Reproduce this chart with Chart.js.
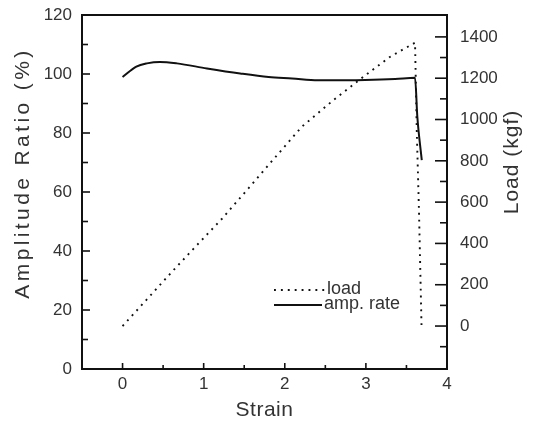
<!DOCTYPE html>
<html>
<head>
<meta charset="utf-8">
<script src="https://cdn.jsdelivr.net/npm/chart.js@4.4.1/dist/chart.umd.min.js"></script>
<style>
    html, body { margin: 0; padding: 0; background: #fff; }
    #wrap { width: 535px; height: 424px; }
</style>
</head>
<body>
<div id="wrap"><canvas id="strainChart"></canvas></div>
<script>
// load curve (kgf) vs strain
const loadStrain = [0, 0.61, 0.91, 1.22, 1.57, 1.86, 2.21, 2.60, 2.97, 3.30, 3.606, 3.627, 3.655, 3.686];
const loadValues = [0, 263, 389, 517, 675, 807, 965, 1094, 1207, 1304, 1372, 950, 550, 0];

// amplitude ratio (%) vs strain
const ampStrain = [0, 0.17, 0.30, 0.46, 0.67, 1.04, 1.45, 1.80, 2.09, 2.41, 2.99, 3.36, 3.606, 3.634, 3.689];
const ampValues = [99.0, 102.5, 103.6, 104.1, 103.6, 101.9, 100.2, 99.0, 98.5, 97.9, 98.0, 98.3, 98.7, 85.6, 70.8];

// tick labels
const strainTicks = [0, 1, 2, 3, 4];
const strainMinor = [0.5, 1.5, 2.5, 3.5];
const ampTicks = [0, 20, 40, 60, 80, 100, 120];
const ampMinor = [10, 30, 50, 70, 90, 110];
const loadTicks = [0, 200, 400, 600, 800, 1000, 1200, 1400];
const loadMinor = [-100, 100, 300, 500, 700, 900, 1100, 1300];

const INK = "#111";
const TEXT = "#333";
const FONT = "'Liberation Sans', Arial, Helvetica, sans-serif";

/**
 * frame + inward tick marks
 */
const frameTicks = {
    id: "frameTicks",
    afterDraw(chart) {
        const { ctx, chartArea: a, scales } = chart;
        ctx.save();
        ctx.strokeStyle = INK;
        ctx.lineWidth = 2;
        ctx.strokeRect(a.left, a.top, a.right - a.left, a.bottom - a.top);

        ctx.lineWidth = 1.6;
        const mark = (x1, y1, x2, y2) => {
            ctx.beginPath();
            ctx.moveTo(x1, y1);
            ctx.lineTo(x2, y2);
            ctx.stroke();
        };

        strainTicks.forEach(v => {
            const x = scales.x.getPixelForValue(v);
            mark(x, a.bottom, x, a.bottom - 6);
        });
        strainMinor.forEach(v => {
            const x = scales.x.getPixelForValue(v);
            mark(x, a.bottom, x, a.bottom - 4);
        });
        ampTicks.forEach(v => {
            const y = scales.y.getPixelForValue(v);
            mark(a.left, y, a.left + 8, y);
        });
        ampMinor.forEach(v => {
            const y = scales.y.getPixelForValue(v);
            mark(a.left, y, a.left + 6, y);
        });
        loadTicks.forEach(v => {
            const y = scales.y1.getPixelForValue(v);
            mark(a.right, y, a.right - 12, y);
        });
        loadMinor.forEach(v => {
            const y = scales.y1.getPixelForValue(v);
            mark(a.right, y, a.right - 7, y);
        });
        ctx.restore();
    }
};

/**
 * axis titles (placed like the original figure)
 */
const axisTitles = {
    id: "axisTitles",
    afterDraw(chart) {
        const { ctx, chartArea: a } = chart;
        ctx.save();
        ctx.fillStyle = TEXT;
        ctx.textAlign = "center";
        ctx.textBaseline = "middle";

        ctx.font = `21px ${FONT}`;
        ctx.letterSpacing = "0.5px";
        ctx.fillText("Strain", (a.left + a.right) / 2, 410);

        ctx.letterSpacing = "3.4px";
        ctx.save();
        ctx.translate(23, 173);
        ctx.rotate(-Math.PI / 2);
        ctx.fillText("Amplitude Ratio (%)", 0, 0);
        ctx.restore();

        ctx.letterSpacing = "1px";
        ctx.save();
        ctx.translate(512, 162);
        ctx.rotate(-Math.PI / 2);
        ctx.fillText("Load (kgf)", 0, 0);
        ctx.restore();
        ctx.restore();
    }
};

/**
 * small in-plot legend
 */
const innerLegend = {
    id: "innerLegend",
    afterDraw(chart) {
        const { ctx } = chart;
        const rows = [
            { ds: chart.data.datasets[0], y: 290, tx: 327 },
            { ds: chart.data.datasets[1], y: 305, tx: 324 }
        ];
        ctx.save();
        ctx.font = `18px ${FONT}`;
        ctx.textBaseline = "middle";
        ctx.fillStyle = TEXT;
        rows.forEach(r => {
            ctx.strokeStyle = r.ds.borderColor;
            ctx.lineWidth = r.ds.borderWidth;
            ctx.setLineDash(r.ds.borderDash || []);
            ctx.beginPath();
            ctx.moveTo(274, r.y);
            ctx.lineTo(r.tx - 2, r.y);
            ctx.stroke();
            ctx.setLineDash([]);
            ctx.fillText(r.ds.label, r.tx, r.y - 1);
        });
        ctx.restore();
    }
};

const tickFont = { family: FONT, size: 17 };

function initChart() {
    const ctx = document.getElementById("strainChart");
    if (!ctx) return;

    new Chart(ctx, {
        type: "line",
        data: {
            datasets: [
                {
                    label: "load",
                    data: loadStrain.map((s, i) => ({ x: s, y: loadValues[i] })),
                    yAxisID: "y1",
                    borderColor: INK,
                    borderWidth: 1.9,
                    borderDash: [1.9, 5],
                    pointRadius: 0,
                    tension: 0
                },
                {
                    label: "amp. rate",
                    data: ampStrain.map((s, i) => ({ x: s, y: ampValues[i] })),
                    yAxisID: "y",
                    borderColor: INK,
                    borderWidth: 2,
                    pointRadius: 0,
                    cubicInterpolationMode: "monotone"
                }
            ]
        },
        options: {
            responsive: true,
            maintainAspectRatio: false,
            animation: false,
            layout: { padding: { top: 15, left: 0, right: 0, bottom: 0 } },
            plugins: {
                legend: { display: false },
                tooltip: { enabled: false }
            },
            scales: {
                x: {
                    type: "linear",
                    min: -0.5,
                    max: 4,
                    afterBuildTicks: s => { s.ticks = strainTicks.map(v => ({ value: v })); },
                    afterFit: s => { s.height = 55; s.paddingLeft = 0; s.paddingRight = 0; },
                    grid: { display: false, drawTicks: false },
                    border: { display: false },
                    ticks: {
                        color: TEXT,
                        font: tickFont,
                        padding: 5,
                        maxRotation: 0,
                        autoSkip: false,
                        callback: v => String(v)
                    }
                },
                y: {
                    position: "left",
                    min: 0,
                    max: 120,
                    afterBuildTicks: s => { s.ticks = ampTicks.map(v => ({ value: v })); },
                    afterFit: s => { s.width = 82; s.paddingTop = 0; s.paddingBottom = 0; },
                    grid: { display: false, drawTicks: false },
                    border: { display: false },
                    ticks: {
                        color: TEXT,
                        font: tickFont,
                        padding: 10,
                        callback: v => String(v)
                    }
                },
                y1: {
                    position: "right",
                    min: -208,
                    max: 1506,
                    afterBuildTicks: s => { s.ticks = loadTicks.map(v => ({ value: v })); },
                    afterFit: s => { s.width = 88; s.paddingTop = 0; s.paddingBottom = 0; },
                    grid: { display: false, drawTicks: false },
                    border: { display: false },
                    ticks: {
                        color: TEXT,
                        font: tickFont,
                        padding: 13,
                        callback: v => String(v)
                    }
                }
            }
        },
        plugins: [frameTicks, axisTitles, innerLegend]
    });
}

initChart();
</script>
</body>
</html>
